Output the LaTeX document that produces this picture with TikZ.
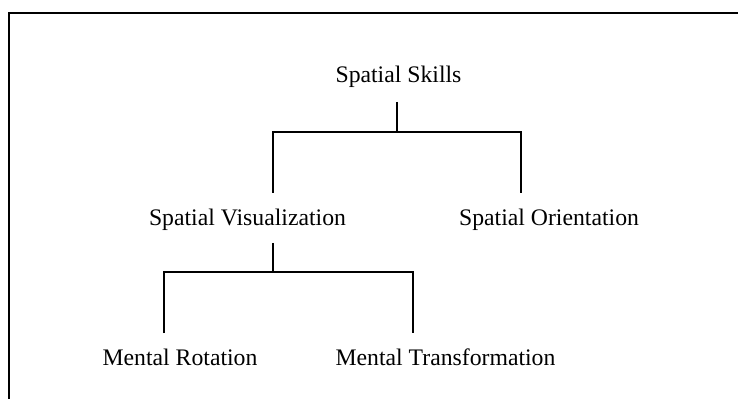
\documentclass[tikz,border=0pt]{standalone}
\usepackage{fontspec}
\setmainfont{Liberation Serif}
\begin{document}
\begin{tikzpicture}[line width=0.9pt]
		\useasboundingbox (0,0) rectangle (14.76,-7.98);
		\draw (0.18,-7.98) -- (0.18,-0.26) -- (14.76,-0.26);

		\node[anchor=base] (skills) at (7.97,-1.66) {\fontsize{13.5}{0}\selectfont Spatial Skills};
		\node[anchor=base] (vis) at (4.95,-4.52) {\fontsize{13.5}{0}\selectfont Spatial Visualization};
		\node[anchor=base] (ori) at (10.98,-4.52) {\fontsize{13.5}{0}\selectfont Spatial Orientation};
		\node[anchor=base] (rot) at (3.60,-7.30) {\fontsize{13.5}{0}\selectfont Mental Rotation};
		\node[anchor=base] (trans) at (8.91,-7.30) {\fontsize{13.5}{0}\selectfont Mental Transformation};

		\coordinate (skills-out) at (7.94,-2.04);
		\coordinate (skills-bar) at (7.94,-2.64);
		\coordinate (vis-in) at (5.46,-3.86);
		\coordinate (ori-in) at (10.42,-3.86);
		\draw (skills-out) -- (skills-bar);
		\draw (vis-in) -- (vis-in |- skills-bar) -- (ori-in |- skills-bar) -- (ori-in);

		\coordinate (vis-out) at (5.46,-4.86);
		\coordinate (vis-bar) at (5.46,-5.44);
		\coordinate (rot-in) at (3.28,-6.66);
		\coordinate (trans-in) at (8.26,-6.66);
		\draw (vis-out) -- (vis-bar);
		\draw (rot-in) -- (rot-in |- vis-bar) -- (trans-in |- vis-bar) -- (trans-in);
	\end{tikzpicture}
\end{document}
